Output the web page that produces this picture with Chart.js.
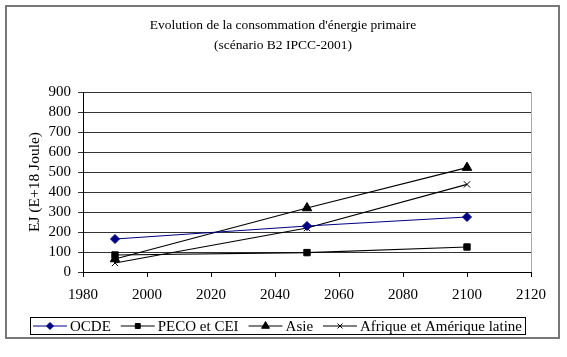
<!DOCTYPE html>
<html><head><meta charset="utf-8">
<script src="https://cdn.jsdelivr.net/npm/chart.js@4"></script>
<style>
html,body{margin:0;padding:0;background:#fff;}
#wrap{position:relative;width:567px;height:357px;}
#frame{position:absolute;left:5px;top:5px;width:555px;height:334px;border:2px solid #777;box-sizing:border-box;pointer-events:none;}
canvas{position:absolute;left:0;top:0;}
</style></head>
<body>
<div id="wrap"><canvas id="c" width="567" height="357"></canvas><div id="frame"></div></div>
<script>
const years = [1990, 2050, 2100];
const ocde = [165, 230, 275];
const peco = [85, 97, 125];
const asie = [65, 320, 522];
const afrique = [45, 220, 438];
const seriesNames = ['OCDE', 'PECO et CEI', 'Asie', 'Afrique et Amérique latine'];
const titleLines = ["Evolution de la consommation d'énergie primaire", "(scénario B2 IPCC-2001)"];
const yTitle = 'EJ (E+18 Joule)';

const FONT = "'Liberation Serif', 'Times New Roman', serif";
const toPts = arr => years.map((x, i) => ({x: x, y: arr[i]}));
const styles = [
  {color: '#000080', pointStyle: 'rectRot', radius: 4.5},
  {color: '#000000', pointStyle: 'rect', radius: 4.5},
  {color: '#000000', pointStyle: 'triangle', radius: 5.5},
  {color: '#000000', pointStyle: 'crossRot', radius: 4.5}
];
const dataArr = [ocde, peco, asie, afrique];
const datasets = dataArr.map((d, i) => ({
  label: seriesNames[i],
  data: toPts(d),
  borderColor: styles[i].color,
  backgroundColor: styles[i].color,
  borderWidth: 1.2,
  pointStyle: styles[i].pointStyle,
  pointRadius: styles[i].radius,
  pointBorderWidth: 1,
  tension: 0
}));

const deco = {
  id: 'deco',
  afterDraw(chart) {
    const ctx = chart.ctx, a = chart.chartArea;
    ctx.save();
    ctx.strokeStyle = '#aaa'; ctx.lineWidth = 1;
    ctx.beginPath(); ctx.moveTo(a.right + 0.5, a.top); ctx.lineTo(a.right + 0.5, a.bottom); ctx.stroke();
    ctx.fillStyle = '#000';
    ctx.font = '13.5px ' + FONT;
    ctx.textAlign = 'center'; ctx.textBaseline = 'middle';
    ctx.fillText(titleLines[0], 283, 25);
    ctx.fillText(titleLines[1], 283, 45);
    // legend
    ctx.font = '15px ' + FONT;
    ctx.textAlign = 'left';
    const sample = 34, gapT = 3;
    const boxL = 30, boxR = 525, boxT = 317, boxB = 334;
    const inner = (boxR - boxL) - 6;
    let widths = seriesNames.map(n => sample + gapT + ctx.measureText(n).width);
    let sum = widths.reduce((s, w) => s + w, 0);
    const gapI = Math.max(4, (inner - sum) / (seriesNames.length - 1));
    ctx.strokeStyle = '#000'; ctx.lineWidth = 1;
    ctx.strokeRect(boxL + 0.5, boxT + 0.5, boxR - boxL, boxB - boxT);
    let x = boxL + 3;
    const cy = (boxT + boxB) / 2 + 0.5;
    seriesNames.forEach((n, i) => {
      const st = styles[i];
      ctx.strokeStyle = st.color; ctx.lineWidth = 1;
      ctx.beginPath(); ctx.moveTo(x, cy); ctx.lineTo(x + sample, cy); ctx.stroke();
      ctx.fillStyle = st.color;
      Chart.helpers.drawPoint(ctx, {pointStyle: st.pointStyle, radius: st.radius - 1, borderWidth: 1}, x + sample / 2, cy);
      ctx.fillStyle = '#000';
      ctx.fillText(n, x + sample + gapT, cy + 1);
      x += widths[i] + gapI;
    });
    ctx.restore();
  }
};

new Chart(document.getElementById('c'), {
  type: 'line',
  data: {datasets},
  options: {
    responsive: false,
    animation: false,
    layout: {padding: {top: 92, right: 36, bottom: 0, left: 0}},
    plugins: {legend: {display: false}, title: {display: false}, tooltip: {enabled: false}},
    scales: {
      x: {
        type: 'linear', min: 1980, max: 2120,
        ticks: {stepSize: 20, color: '#000', font: {family: FONT, size: 15}, padding: 9, maxRotation: 0,
          autoSkip: false, callback: v => String(v)},
        grid: {drawOnChartArea: false, drawTicks: true, tickLength: 5, color: '#000'},
        border: {color: '#000', width: 1},
        afterFit: s => { s.height = 85; }
      },
      y: {
        min: 0, max: 900,
        ticks: {stepSize: 100, color: '#000', font: {family: FONT, size: 15}, padding: 7, autoSkip: false},
        grid: {color: '#333', lineWidth: 1, tickLength: 5, drawTicks: true},
        border: {color: '#000', width: 1},
        title: {display: true, text: yTitle, color: '#000', font: {family: FONT, size: 15.5}, padding: {top: 26, bottom: 0}},
        afterFit: s => { s.width = 83; }
      }
    }
  },
  plugins: [deco]
});
</script>
</body></html>
